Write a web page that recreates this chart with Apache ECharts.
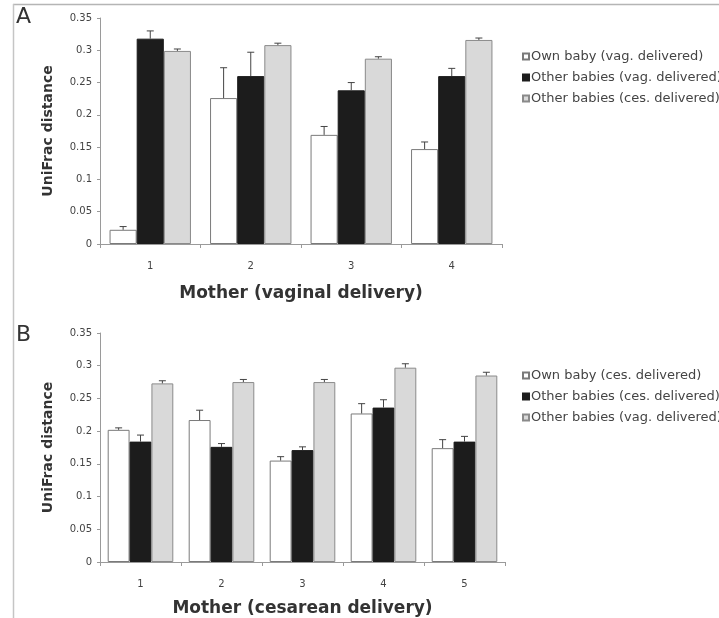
<!DOCTYPE html>
<html>
<head>
<meta charset="utf-8">
<script src="https://cdn.jsdelivr.net/npm/echarts@6/dist/echarts.min.js"></script>
<style>
  html, body { margin: 0; padding: 0; background: #fff; }
  #chart { width: 719px; height: 618px; }
</style>
</head>
<body>
<div id="chart"></div>
<script>
// Panel A: mothers who delivered vaginally
const mothersVaginal = ['1', '2', '3', '4'];
const ownBabyVag = [0.022, 0.226, 0.169, 0.147];
const ownBabyVagErr = [0.005, 0.047, 0.013, 0.011];
const otherVagA = [0.318, 0.260, 0.238, 0.260];
const otherVagAErr = [0.012, 0.037, 0.012, 0.012];
const otherCesA = [0.299, 0.308, 0.287, 0.316];
const otherCesAErr = [0.003, 0.003, 0.003, 0.003];

// Panel B: mothers who delivered by cesarean section
const mothersCesarean = ['1', '2', '3', '4', '5'];
const ownBabyCes = [0.202, 0.217, 0.155, 0.227, 0.174];
const ownBabyCesErr = [0.003, 0.015, 0.006, 0.015, 0.013];
const otherCesB = [0.184, 0.176, 0.171, 0.236, 0.184];
const otherCesBErr = [0.010, 0.005, 0.005, 0.012, 0.008];
const otherVagB = [0.273, 0.275, 0.275, 0.297, 0.285];
const otherVagBErr = [0.004, 0.004, 0.004, 0.006, 0.005];

const legendA = ['Own baby (vag. delivered)', 'Other babies (vag. delivered)', 'Other babies (ces. delivered)'];
const legendB = ['Own baby (ces. delivered)', 'Other babies (ces. delivered)', 'Other babies (vag. delivered)'];

const FONT = 'DejaVu Sans';
const CAT_GAP = 0.19;
const fills = [
  { color: '#ffffff', borderColor: '#7a7a7a', borderWidth: 1 },
  { color: '#1c1c1c', borderColor: '#1c1c1c', borderWidth: 1 },
  { color: '#d9d9d9', borderColor: '#8a8a8a', borderWidth: 1 }
];

function barSeries(panel, name, values, slot) {
  return {
    type: 'bar', name: panel + '|' + name,
    xAxisIndex: panel === 'A' ? 0 : 1, yAxisIndex: panel === 'A' ? 0 : 1,
    data: values, barGap: '0%', barCategoryGap: (CAT_GAP * 100) + '%',
    itemStyle: fills[slot], emphasis: { disabled: true }, z: 2
  };
}

// Upper error whisker drawn over each bar
function errSeries(panel, values, errs, slot) {
  return {
    type: 'custom',
    xAxisIndex: panel === 'A' ? 0 : 1, yAxisIndex: panel === 'A' ? 0 : 1,
    data: values.map((v, i) => [i, v, v + errs[i]]),
    z: 5, silent: true,
    renderItem: function (params, api) {
      const band = api.size([1, 0])[0];
      const bw = band * (1 - CAT_GAP) / 3;
      const base = api.coord([api.value(0), api.value(1)]);
      const top = api.coord([api.value(0), api.value(2)]);
      const x = base[0] + (slot - 1) * bw;
      const cap = 3.5;
      const style = { stroke: '#444', lineWidth: 1, fill: null };
      return {
        type: 'group',
        children: [
          { type: 'line', shape: { x1: x, y1: base[1], x2: x, y2: top[1] }, style: style },
          { type: 'line', shape: { x1: x - cap, y1: top[1], x2: x + cap, y2: top[1] }, style: style }
        ]
      };
    }
  };
}

function xAxis(gridIndex, cats, title, gap) {
  return {
    type: 'category', gridIndex: gridIndex, data: cats,
    axisLine: { lineStyle: { color: '#9a9a9a' } },
    axisTick: { show: true, length: 4, lineStyle: { color: '#9a9a9a' } },
    axisLabel: { fontFamily: FONT, fontSize: 10, color: '#444', margin: 17 },
    name: title, nameLocation: 'middle', nameGap: gap,
    nameTextStyle: { fontFamily: FONT, fontWeight: 'bold', fontSize: 17, color: '#333' }
  };
}

function yAxis(gridIndex) {
  return {
    type: 'value', gridIndex: gridIndex, min: 0, max: 0.35, interval: 0.05,
    axisLine: { show: true, lineStyle: { color: '#9a9a9a' } },
    axisTick: { show: true, length: 3, lineStyle: { color: '#9a9a9a' } },
    splitLine: { show: false },
    axisLabel: { fontFamily: FONT, fontSize: 10, color: '#444', margin: 8 },
    name: 'UniFrac distance', nameLocation: 'middle', nameGap: 45, nameRotate: 90,
    nameTextStyle: { fontFamily: FONT, fontWeight: 'bold', fontSize: 14, color: '#333' }
  };
}

function legend(top, panel, names) {
  return {
    orient: 'vertical', left: 517, top: top, itemGap: 8,
    itemWidth: 6, itemHeight: 6, icon: 'rect', selectedMode: false,
    data: names.map(n => panel + '|' + n),
    formatter: n => n.slice(2),
    textStyle: { fontFamily: FONT, fontSize: 13, color: '#444', padding: [0, 0, 0, -3] }
  };
}

const chart = echarts.init(document.getElementById('chart'), null, { renderer: 'canvas' });
chart.setOption({
  animation: false,
  backgroundColor: '#fff',
  grid: [
    { left: 100, right: 217, top: 18, bottom: 374 },
    { left: 100, right: 214, top: 333, bottom: 56 }
  ],
  xAxis: [
    xAxis(0, mothersVaginal, 'Mother (vaginal delivery)', 41),
    xAxis(1, mothersCesarean, 'Mother (cesarean delivery)', 38)
  ],
  yAxis: [yAxis(0), yAxis(1)],
  legend: [legend(45, 'A', legendA), legend(364, 'B', legendB)],
  series: [
    barSeries('A', legendA[0], ownBabyVag, 0),
    barSeries('A', legendA[1], otherVagA, 1),
    barSeries('A', legendA[2], otherCesA, 2),
    errSeries('A', ownBabyVag, ownBabyVagErr, 0),
    errSeries('A', otherVagA, otherVagAErr, 1),
    errSeries('A', otherCesA, otherCesAErr, 2),
    barSeries('B', legendB[0], ownBabyCes, 0),
    barSeries('B', legendB[1], otherCesB, 1),
    barSeries('B', legendB[2], otherVagB, 2),
    errSeries('B', ownBabyCes, ownBabyCesErr, 0),
    errSeries('B', otherCesB, otherCesBErr, 1),
    errSeries('B', otherVagB, otherVagBErr, 2)
  ],
  graphic: [
    // figure frame
    { type: 'line', shape: { x1: 13, y1: 4.5, x2: 719, y2: 4.5 }, style: { stroke: '#b5b5b5', lineWidth: 1.5 } },
    { type: 'line', shape: { x1: 13.5, y1: 4, x2: 13.5, y2: 618 }, style: { stroke: '#c5c5c5', lineWidth: 1.5 } },
    // panel letters
    { type: 'text', left: 16, top: 6, style: { text: 'A', font: '22px "DejaVu Sans"', fill: '#333' } },
    { type: 'text', left: 16, top: 324, style: { text: 'B', font: '22px "DejaVu Sans"', fill: '#333' } }
  ]
});
</script>
</body>
</html>
